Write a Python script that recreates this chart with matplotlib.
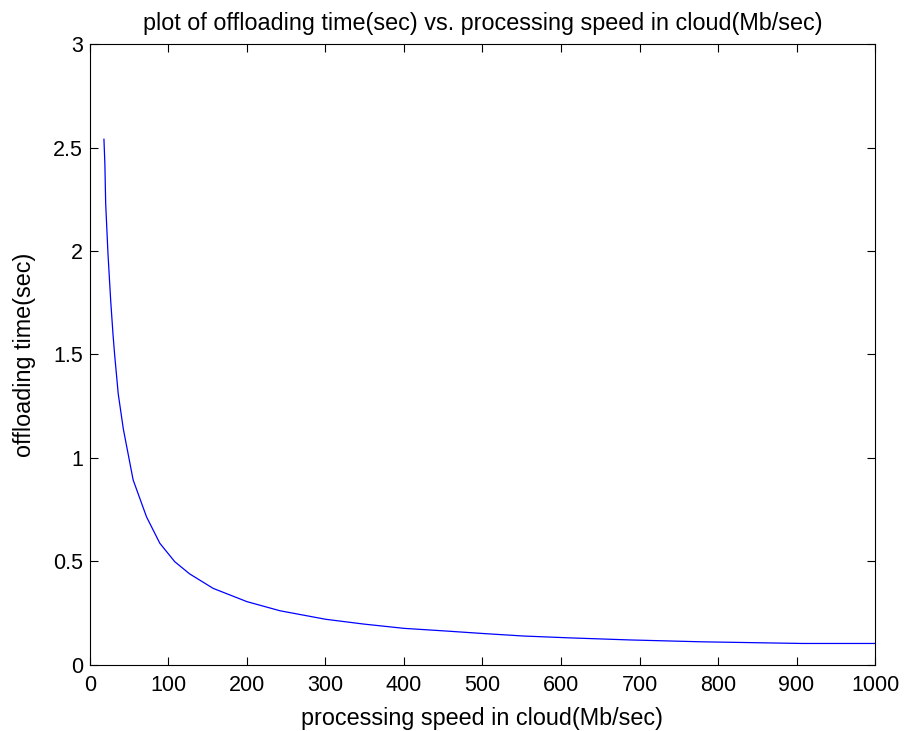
import matplotlib
matplotlib.use("Agg")
import matplotlib.pyplot as plt

plt.rcParams["font.family"] = ["Liberation Sans", "DejaVu Sans"]

# values
speed = [17.8, 19, 20, 22.9, 26.4, 29.3, 31.4, 36, 42.5, 55, 72, 89, 108, 127,
         157, 200, 242, 300, 348, 400, 454, 501, 552, 611, 688, 779, 907, 1000]
offload_time = [2.54, 2.42, 2.23, 1.99, 1.76, 1.60, 1.50, 1.31, 1.14, 0.894,
                0.716, 0.588, 0.499, 0.44, 0.37, 0.306, 0.262, 0.221, 0.198,
                0.177, 0.164, 0.152, 0.140, 0.131, 0.121, 0.112, 0.104, 0.104]

x_ticks = list(range(0, 1001, 100))
y_ticks = [0, 0.5, 1, 1.5, 2, 2.5, 3]

fig = plt.figure(figsize=(9.06, 7.31), dpi=100)
ax = fig.add_axes([0.0993, 0.0903, 0.8665, 0.8495])

ax.plot(speed, offload_time, color="#0000ff", linewidth=0.9)

ax.set_xlim(0, 1000)
ax.set_ylim(0, 3)
ax.set_xticks(x_ticks)
ax.set_yticks(y_ticks)
ax.set_yticklabels(["0", "0.5", "1", "1.5", "2", "2.5", "3"])
ax.tick_params(direction="in", top=True, right=True, length=6, width=0.8,
               labelsize=15.5, pad=5)
ax.tick_params(axis="x", pad=7)
for s in ax.spines.values():
    s.set_linewidth(0.8)

ax.set_title("plot of offloading time(sec) vs. processing speed in cloud(Mb/sec)",
             fontsize=16.8, pad=10)
ax.set_xlabel("processing speed in cloud(Mb/sec)", fontsize=16.8, labelpad=8)
ax.set_ylabel("offloading time(sec)", fontsize=16.8, labelpad=12)

fig.savefig("out.png", dpi=100)
